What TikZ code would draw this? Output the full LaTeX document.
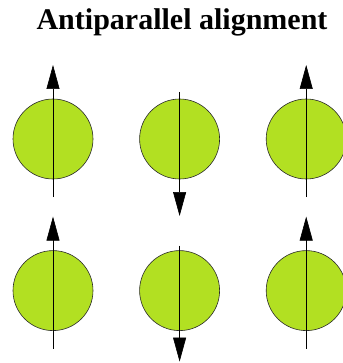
\documentclass[tikz,border=0pt]{standalone}
\usepackage{fontspec}
\setmainfont{Liberation Serif}
\usetikzlibrary{arrows.meta,positioning}
\definecolor{SpinGreen}{HTML}{B2E022}
\definecolor{Edge}{HTML}{2A2A2A}
\tikzset{
  spin/.style={circle,draw=Edge,semithick,fill=SpinGreen,minimum size=80pt,inner sep=0pt},
  spinArrow/.style={-{Triangle[length=24pt,width=13pt]},semithick,draw=black},
  titleText/.style={font=\bfseries\fontsize{30}{34}\selectfont,text=black}
}

\begin{document}
\begin{tikzpicture}[x=1pt,y=-1pt,node distance=46pt]
\useasboundingbox (0,0) rectangle (342,363);
\node[titleText] (title) at (182,22) {Antiparallel alignment};
% top row
\node[spin] (s11) at (53,139) {};
\node[spin,right=of s11] (s12) {};
\node[spin,right=of s12] (s13) {};
% bottom row
\node[spin,below=71pt of s11] (s21) {};
\node[spin,right=of s21] (s22) {};
\node[spin,right=of s22] (s23) {};
% arrow ends
\coordinate (t11) at ([yshift=-58pt]s11.center);\coordinate (h11) at ([yshift=74pt]s11.center);
\coordinate (t12) at ([yshift=47pt]s12.center);\coordinate (h12) at ([yshift=-77pt]s12.center);
\coordinate (t13) at ([yshift=-58pt]s13.center);\coordinate (h13) at ([yshift=74pt]s13.center);
\coordinate (t21) at ([yshift=-58pt]s21.center);\coordinate (h21) at ([yshift=74pt]s21.center);
\coordinate (t22) at ([yshift=45pt]s22.center);\coordinate (h22) at ([yshift=-71pt]s22.center);
\coordinate (t23) at ([yshift=-58pt]s23.center);\coordinate (h23) at ([yshift=74pt]s23.center);
\draw[spinArrow] (t11)--(h11);\draw[spinArrow] (t12)--(h12);\draw[spinArrow] (t13)--(h13);
\draw[spinArrow] (t21)--(h21);\draw[spinArrow] (t22)--(h22);\draw[spinArrow] (t23)--(h23);
\end{tikzpicture}
\end{document}
